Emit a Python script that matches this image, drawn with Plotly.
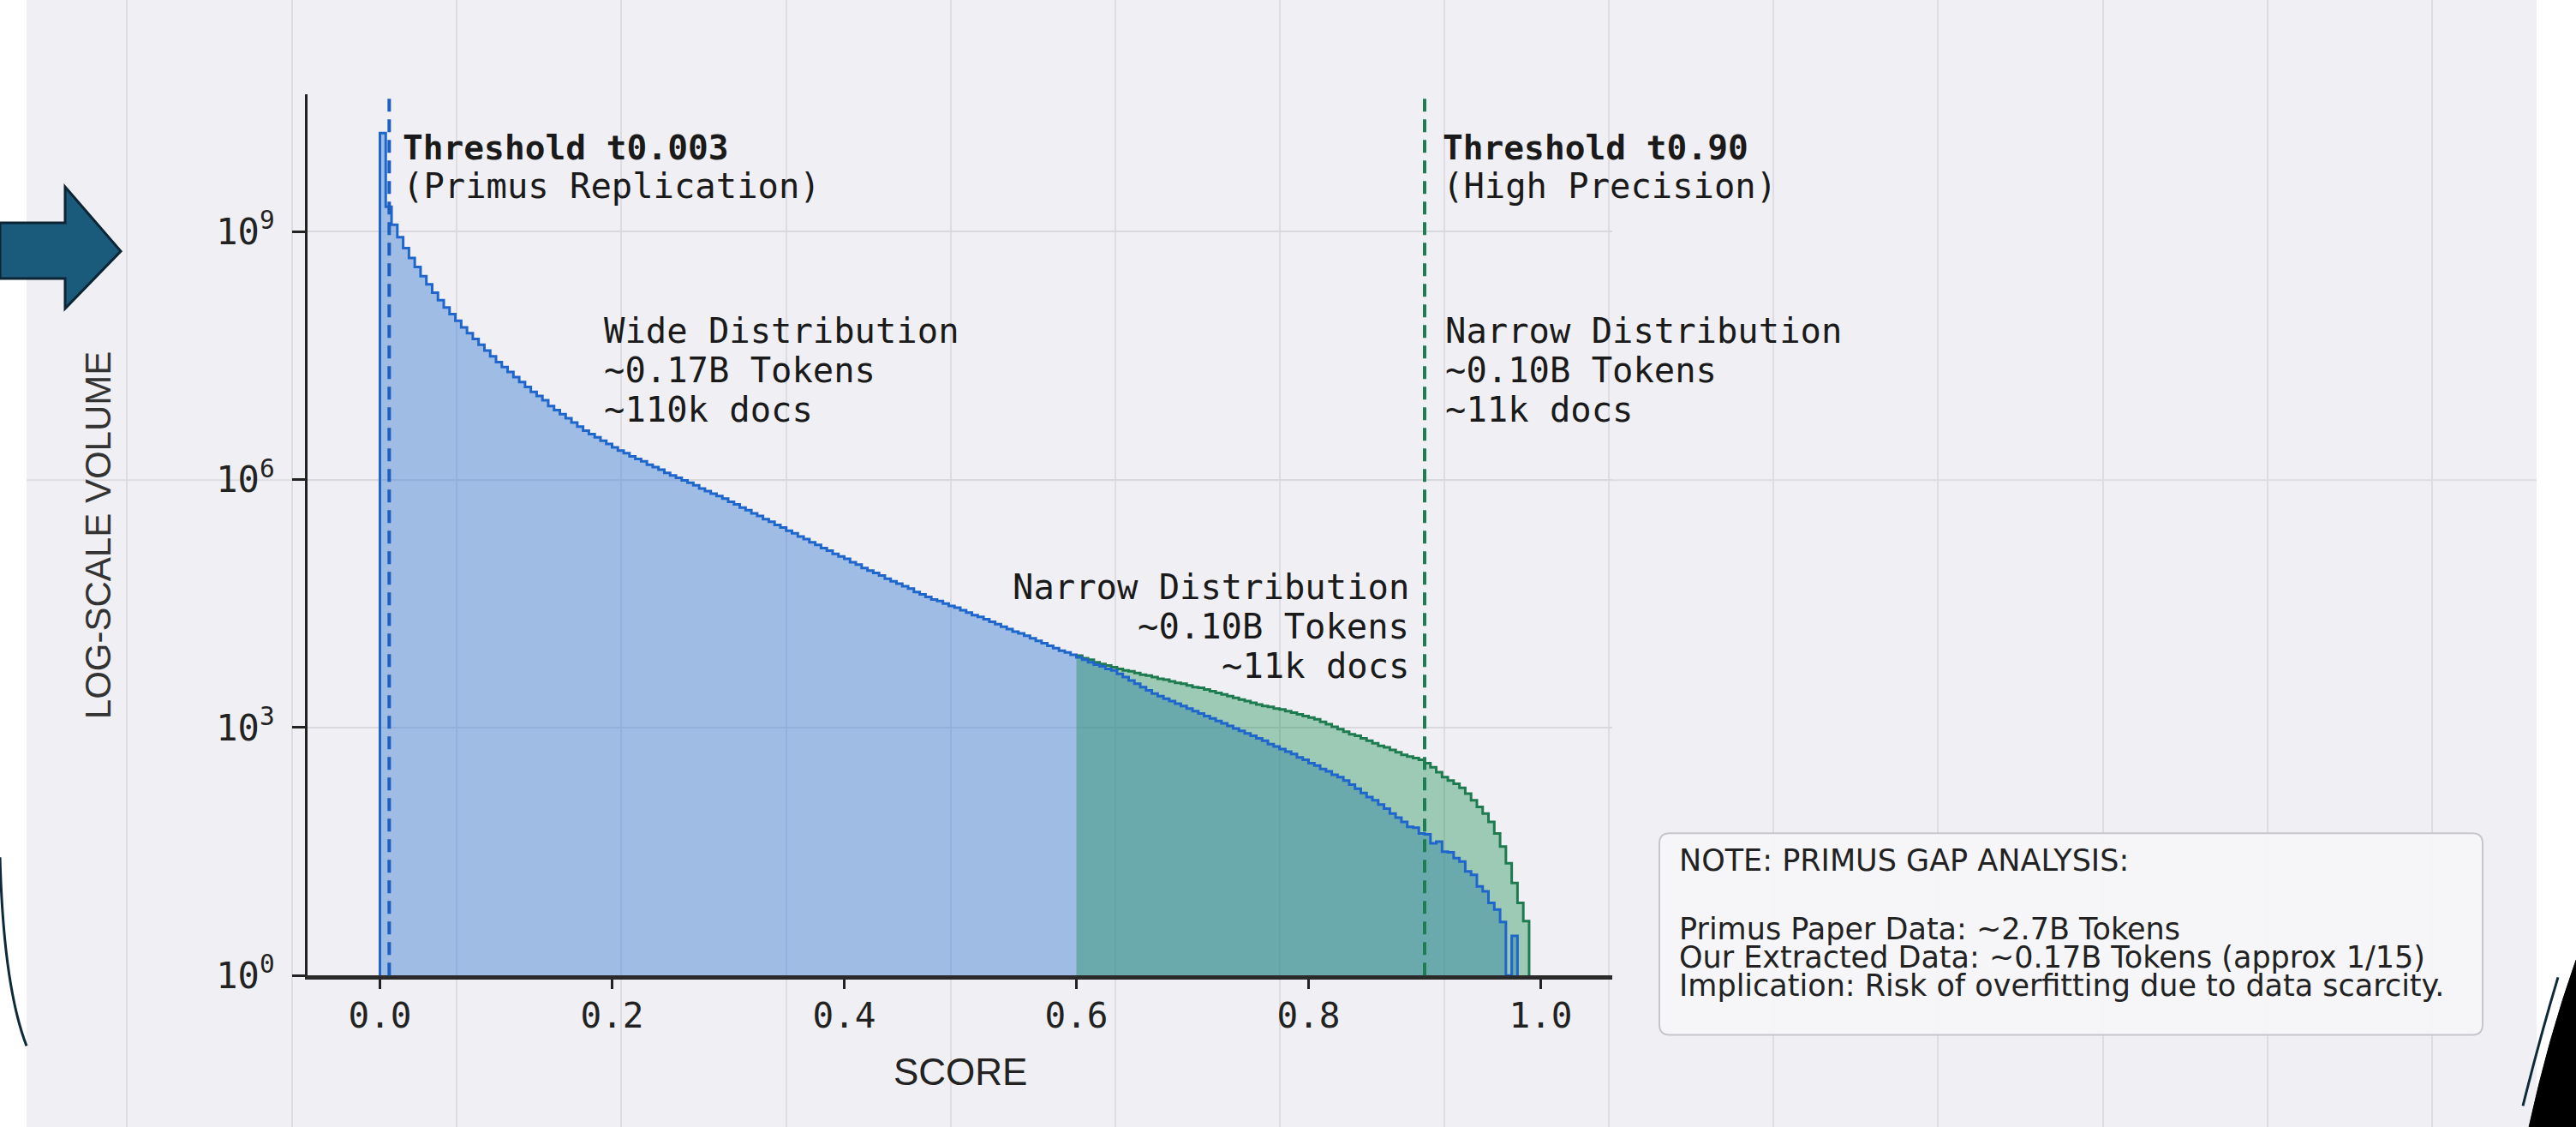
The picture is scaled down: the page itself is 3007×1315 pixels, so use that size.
import plotly.graph_objects as go

# ---------------- data ----------------
BIN_WIDTH = 0.005

# Wide distribution (blue), log10 of volume per bin, bins start at score 0.0
BLUE_START = 0.0
BLUE_LOG10 = [
    10.19, 9.30, 9.08, 8.93, 8.80, 8.68, 8.57, 8.46, 8.36, 8.26,
    8.17, 8.08, 8.00, 7.92, 7.84, 7.77, 7.70, 7.63, 7.56, 7.49,
    7.42, 7.36, 7.30, 7.24, 7.18, 7.12, 7.06, 7.01, 6.96, 6.89,
    6.84, 6.79, 6.74, 6.69, 6.64, 6.59, 6.55, 6.51, 6.47, 6.43,
    6.39, 6.35, 6.32, 6.28, 6.25, 6.22, 6.18, 6.15, 6.12, 6.08,
    6.05, 6.02, 5.99, 5.96, 5.93, 5.89, 5.86, 5.83, 5.80, 5.77,
    5.73, 5.70, 5.66, 5.63, 5.59, 5.56, 5.52, 5.49, 5.45, 5.42,
    5.38, 5.35, 5.31, 5.28, 5.24, 5.21, 5.17, 5.14, 5.10, 5.07,
    5.04, 5.00, 4.97, 4.93, 4.90, 4.87, 4.84, 4.80, 4.77, 4.74,
    4.71, 4.68, 4.64, 4.61, 4.58, 4.55, 4.53, 4.50, 4.47, 4.45,
    4.42, 4.39, 4.36, 4.34, 4.31, 4.28, 4.25, 4.22, 4.19, 4.16,
    4.14, 4.11, 4.08, 4.05, 4.02, 3.99, 3.96, 3.93, 3.91, 3.88,
    3.85, 3.82, 3.79, 3.76, 3.74, 3.71, 3.69, 3.65, 3.61, 3.57,
    3.53, 3.49, 3.45, 3.41, 3.38, 3.35, 3.32, 3.29, 3.26, 3.23,
    3.20, 3.17, 3.14, 3.11, 3.08, 3.05, 3.02, 2.99, 2.96, 2.93,
    2.90, 2.87, 2.84, 2.80, 2.77, 2.74, 2.71, 2.68, 2.64, 2.61,
    2.57, 2.54, 2.50, 2.47, 2.43, 2.40, 2.36, 2.31, 2.26, 2.21,
    2.16, 2.12, 2.07, 2.02, 1.96, 1.91, 1.86, 1.80, 1.79, 1.72,
    1.71, 1.60, 1.62, 1.50, 1.49, 1.42, 1.38, 1.26, 1.22, 1.08,
    1.02, 0.88, 0.80, 0.65, 0.00, 0.48,
]

# Narrow distribution (green), bins start at score 0.6
GREEN_START = 0.6
GREEN_LOG10 = [
    3.87, 3.84, 3.82, 3.79, 3.77, 3.75, 3.73, 3.71, 3.69, 3.68,
    3.66, 3.64, 3.63, 3.61, 3.59, 3.58, 3.56, 3.54, 3.53, 3.51,
    3.49, 3.48, 3.46, 3.44, 3.42, 3.40, 3.38, 3.36, 3.34, 3.32,
    3.30, 3.28, 3.26, 3.25, 3.23, 3.22, 3.20, 3.18, 3.16, 3.14,
    3.12, 3.10, 3.07, 3.04, 3.01, 2.98, 2.95, 2.92, 2.90, 2.87,
    2.84, 2.81, 2.78, 2.76, 2.73, 2.70, 2.67, 2.65, 2.63, 2.61,
    2.57, 2.52, 2.46, 2.40, 2.36, 2.32, 2.27, 2.20, 2.12, 2.04,
    1.96, 1.86, 1.72, 1.56, 1.36, 1.12, 0.88, 0.66,
]

THRESHOLD_SCORES = [0.008, 0.90]
X_TICKS = [0.0, 0.2, 0.4, 0.6, 0.8, 1.0]
X_TICK_TEXT = ["0.0", "0.2", "0.4", "0.6", "0.8", "1.0"]
Y_TICK_EXPONENTS = [0, 3, 6, 9]

# ---------------- styling ----------------
W, H = 3007, 1315
KY = 1.0197          # vertical correction measured from the rendered picture
BG = "#f0f0f4"
BLUE_LINE = "#1f66cc"
BLUE_FILL = "rgba(77,136,214,0.5)"
GREEN_LINE = "#1e7b4f"
GREEN_FILL = "rgba(20,140,80,0.38)"
MONO = "DejaVu Sans Mono"
TXT = "#1a1a1a"


def px(x):
    return x / W


def py(y):
    return 1 - (y * KY) / H


def step_outline(start, logs):
    xs, ys = [], []
    for i, v in enumerate(logs):
        x0 = start + i * BIN_WIDTH
        xs += [x0, x0 + BIN_WIDTH]
        ys += [10 ** v, 10 ** v]
    return xs, ys


bx, by = step_outline(BLUE_START, BLUE_LOG10)
gx, gy = step_outline(GREEN_START, GREEN_LOG10)

fig = go.Figure()
fig.add_trace(go.Scatter(x=[bx[0]] + bx + [bx[-1]], y=[1] + by + [1], mode="lines",
                         fill="toself", fillcolor=BLUE_FILL, line=dict(width=0),
                         hoverinfo="skip", showlegend=False))
fig.add_trace(go.Scatter(x=[gx[0]] + gx + [gx[-1]], y=[1] + gy + [1], mode="lines",
                         fill="toself", fillcolor=GREEN_FILL, line=dict(width=0),
                         hoverinfo="skip", showlegend=False))
fig.add_trace(go.Scatter(x=gx + [gx[-1]], y=gy + [1], mode="lines",
                         line=dict(color=GREEN_LINE, width=3), hoverinfo="skip", showlegend=False))
fig.add_trace(go.Scatter(x=[bx[0]] + bx + [bx[-1]], y=[1] + by + [1], mode="lines",
                         line=dict(color=BLUE_LINE, width=3), hoverinfo="skip", showlegend=False))

# threshold lines
for thr, col in zip(THRESHOLD_SCORES, ["#1f5fbf", "#1e7d52"]):
    fig.add_shape(type="line", xref="x", yref="y domain", x0=thr, x1=thr, y0=0, y1=1,
                  line=dict(color=col, width=4, dash="15px,9px"), layer="above")

# ---------------- page decoration ----------------
shapes = []
shapes.append(dict(type="rect", xref="paper", yref="paper", x0=px(31), x1=px(2961), y0=-0.02, y1=1.01,
                   fillcolor=BG, line=dict(width=0), layer="below"))
for gxp in [148, 341, 533, 725, 918, 1110, 1302, 1494, 1686, 1878, 2070, 2262, 2455, 2647, 2839]:
    shapes.append(dict(type="line", xref="paper", yref="paper", x0=px(gxp), x1=px(gxp), y0=-0.02, y1=1,
                       line=dict(color="#dcdce2", width=2), layer="below"))
shapes.append(dict(type="line", xref="paper", yref="paper", x0=px(31), x1=px(2961), y0=py(560), y1=py(560),
                   line=dict(color="#dcdce2", width=2), layer="below"))

# arrow
arrow = [(0, 260), (76, 260), (76, 218), (141, 293), (76, 360), (76, 325), (0, 325)]
path = "M " + " L ".join(f"{px(a)},{py(b)}" for a, b in arrow) + " Z"
shapes.append(dict(type="path", xref="paper", yref="paper", path=path,
                   fillcolor="#1a5a7a", line=dict(color="#0b2535", width=3), layer="above"))
# left arc
shapes.append(dict(type="path", xref="paper", yref="paper",
                   path=f"M {px(0)},{py(1000)} Q {px(4)},{py(1150)} {px(31)},{py(1220)}",
                   line=dict(color="#0d2a3a", width=3), layer="above"))
# bottom-right crescent
shapes.append(dict(type="path", xref="paper", yref="paper",
                   path=f"M {px(3007)},{py(1120)} Q {px(2975)},{py(1210)} {px(2952)},{py(1315)} L {px(3007)},{py(1315)} Z",
                   fillcolor="black", line=dict(color="black", width=1), layer="above"))
shapes.append(dict(type="path", xref="paper", yref="paper",
                   path=f"M {px(2986)},{py(1140)} Q {px(2965)},{py(1210)} {px(2945)},{py(1290)}",
                   line=dict(color="#0d2a3a", width=3), layer="above"))

# note box (rounded)
x0, x1, y0, y1, r = 1937, 2898, 972, 1207, 12
pts = (f"M {px(x0 + r)},{py(y0)} L {px(x1 - r)},{py(y0)} Q {px(x1)},{py(y0)} {px(x1)},{py(y0 + r)} "
       f"L {px(x1)},{py(y1 - r)} Q {px(x1)},{py(y1)} {px(x1 - r)},{py(y1)} "
       f"L {px(x0 + r)},{py(y1)} Q {px(x0)},{py(y1)} {px(x0)},{py(y1 - r)} "
       f"L {px(x0)},{py(y0 + r)} Q {px(x0)},{py(y0)} {px(x0 + r)},{py(y0)} Z")
shapes.append(dict(type="path", xref="paper", yref="paper", path=pts,
                   fillcolor="rgba(246,246,249,0.95)", line=dict(color="#c6c6cc", width=2), layer="above"))

for s in shapes:
    fig.add_shape(**s)


def label(t, x, y, size, family=MONO, xanchor="left", color=TXT, angle=0):
    fig.add_annotation(text=t, x=px(x), y=py(y), xref="paper", yref="paper", showarrow=False,
                       xanchor=xanchor, yanchor="middle", textangle=angle,
                       font=dict(family=family, size=size, color=color))


A = 40.5
label("<b>Threshold t0.003</b>", 468, 172, 39.5)
label("(Primus Replication)", 468, 217, A)
label("<b>Threshold t0.90</b>", 1682, 172, 39.5)
label("(High Precision)", 1682, 217, A)
for i, t in enumerate(["Wide Distribution", "~0.17B Tokens", "~110k docs"]):
    label(t, 703, 386 + i * 46, A)
for i, t in enumerate(["Narrow Distribution", "~0.10B Tokens", "~11k docs"]):
    label(t, 1685, 386 + i * 46, A)
for i, t in enumerate(["Narrow Distribution", "~0.10B Tokens", "~11k docs"]):
    label(t, 1647, 685 + i * 46, A, xanchor="right")

label("LOG-SCALE VOLUME", 114, 624, 42, family="Liberation Sans", color="#333333", angle=-90, xanchor="center")
label("SCORE", 1121, 1250, 44, family="Liberation Sans", color="#222222", xanchor="center")

NOTE = "DejaVu Sans"
label("NOTE: PRIMUS GAP ANALYSIS:", 1958, 1004, 35, family=NOTE, color="#222222")
label("Primus Paper Data: ~2.7B Tokens", 1958, 1084, 35, family=NOTE, color="#222222")
label("Our Extracted Data: ~0.17B Tokens (approx 1/15)", 1958, 1117, 35, family=NOTE, color="#222222")
label("Implication: Risk of overfitting due to data scarcity.", 1958, 1150, 35, family=NOTE, color="#222222")

# ---------------- axes ----------------
X0_PX, X_SCALE = 443.5, 1355.0
left_px, right_px = 359, 1882
top_px, bottom_px = 110, 1138
decade_px = (1138 - 270) / 9.0

fig.update_layout(
    width=W, height=H,
    margin=dict(l=0, r=0, t=0, b=0),
    paper_bgcolor="white",
    plot_bgcolor="rgba(0,0,0,0)",
    showlegend=False,
    xaxis=dict(
        domain=[px(left_px), px(right_px)],
        range=[(left_px - X0_PX) / X_SCALE, (right_px - X0_PX) / X_SCALE],
        tickvals=X_TICKS, ticktext=X_TICK_TEXT,
        ticks="outside", ticklen=11, tickwidth=3, tickcolor="#222222",
        showline=True, linewidth=5, linecolor="#2a2a2a",
        showgrid=False, zeroline=False,
        tickfont=dict(family=MONO, size=41, color="#222222"),
        ticklabelstandoff=-5,
    ),
    yaxis=dict(
        type="log",
        domain=[py(bottom_px), py(top_px)],
        range=[0, (bottom_px - top_px) / decade_px],
        tickvals=[10 ** e for e in Y_TICK_EXPONENTS],
        ticktext=[f"10<sup>{e}</sup>" for e in Y_TICK_EXPONENTS],
        ticks="outside", ticklen=15, tickwidth=3, tickcolor="#222222",
        showline=True, linewidth=3, linecolor="#222222",
        showgrid=True, gridcolor="#d8d8de", gridwidth=2, zeroline=False,
        tickfont=dict(family=MONO, size=42, color="#222222"),
        ticklabelstandoff=12,
    ),
)

fig.write_html(
    "out.html",
    config={"displayModeBar": False},
    post_script="document.body.style.margin='0px';document.body.style.overflow='hidden';"
                "document.body.style.background='#f0f0f4';",
)
